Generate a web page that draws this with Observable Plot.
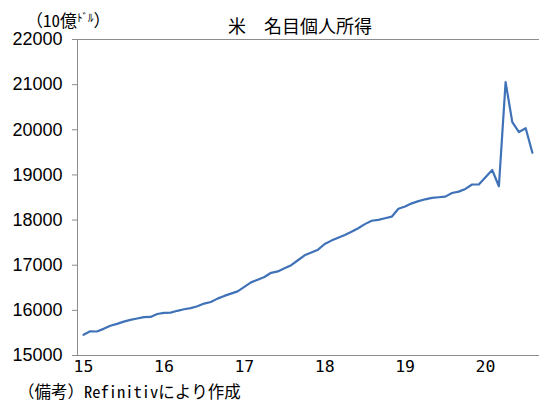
<!DOCTYPE html>
<html>
<head>
<meta charset="utf-8">
<script src="https://cdn.jsdelivr.net/npm/d3@7"></script>
<script src="https://cdn.jsdelivr.net/npm/@observablehq/plot@0.6"></script>
<style>
  html, body { margin: 0; padding: 0; background: #fff; }
  #wrap { position: relative; width: 539px; height: 403px; }
  .lbl { position: absolute; white-space: nowrap; color: #000; line-height: 1; }
  #title { left: 0; width: 600px; top: 12px; text-align: center; font: 18px "Noto Sans CJK JP", sans-serif; }
  #units { left: 26px; top: 7px; font: 17px "Noto Sans Mono CJK JP", "Noto Sans CJK JP", sans-serif; }
  #units .small { font-size: 11px; vertical-align: 5px; }
  #caption { left: 18px; top: 379px; font: 16.5px "Noto Sans Mono CJK JP", "Noto Sans CJK JP", monospace; }
  g[aria-label="y-axis tick label"] { font-family: "Liberation Sans", Arial, sans-serif; font-size: 18px; fill: #000; }
  g[aria-label="x-axis tick label"] { font-family: "DejaVu Sans Mono", monospace; font-size: 16.5px; fill: #000; }
  g[aria-label="y-axis tick"] { stroke: #8c8c8c; }
</style>
</head>
<body>
<div id="wrap">
  <div id="chart"></div>
  <div id="title" class="lbl">米　名目個人所得</div>
  <div id="units" class="lbl">（10億<span class="small">ﾄﾞﾙ</span>）</div>
  <div id="caption" class="lbl">（備考）Refinitivにより作成</div>
</div>
<script>
// Monthly nominal personal income, Jan 2015 – Aug 2020 (billions of dollars, SAAR)
const startYear = 2015;
const income = [
  15460, 15535, 15532, 15590, 15660, 15700, 15750, 15790, 15820, 15850, 15855, 15920,
  15945, 15950, 15990, 16025, 16050, 16090, 16150, 16185, 16260, 16320, 16370, 16420,
  16520, 16620, 16680, 16740, 16832, 16862, 16930, 17000, 17110, 17220, 17280, 17345,
  17470, 17545, 17610, 17670, 17740, 17820, 17910, 17985, 18005, 18040, 18075, 18250,
  18300, 18370, 18420, 18460, 18490, 18505, 18520, 18600, 18630, 18690, 18788, 18788,
  18950, 19110, 18750, 21055, 20170, 19950, 20035, 19490
];
const yearLabels = ["15", "16", "17", "18", "19", "20"];
const yTicks = [15000, 16000, 17000, 18000, 19000, 20000, 21000, 22000];

const data = income.map((v, i) => ({ m: i, v }));
const xTicks = yearLabels.map((_, i) => i * 12);
const xDomain = [-0.9, 68.06];
const yDomain = [15000, 22000];
const axisColor = "#8c8c8c";

const chart = Plot.plot({
  width: 539,
  height: 403,
  marginLeft: 77,
  marginRight: 0,
  marginTop: 39,
  marginBottom: 48,
  style: { background: "transparent", overflow: "visible" },
  x: { type: "linear", domain: xDomain, ticks: xTicks, tickFormat: (d) => yearLabels[Math.round(d / 12)], tickSize: 0, tickPadding: 5, label: null },
  y: { domain: yDomain, ticks: yTicks, tickFormat: (d) => String(d), tickSize: 5, tickPadding: 10, label: null },
  marks: [
    Plot.ruleY(yDomain, { stroke: axisColor, strokeWidth: 1 }),
    Plot.ruleX([xDomain[0]], { stroke: axisColor, strokeWidth: 1 }),
    Plot.lineY(data, { x: "m", y: "v", stroke: "#4072b8", strokeWidth: 2.2, strokeLinejoin: "round" })
  ]
});
document.getElementById("chart").appendChild(chart);
</script>
</body>
</html>
